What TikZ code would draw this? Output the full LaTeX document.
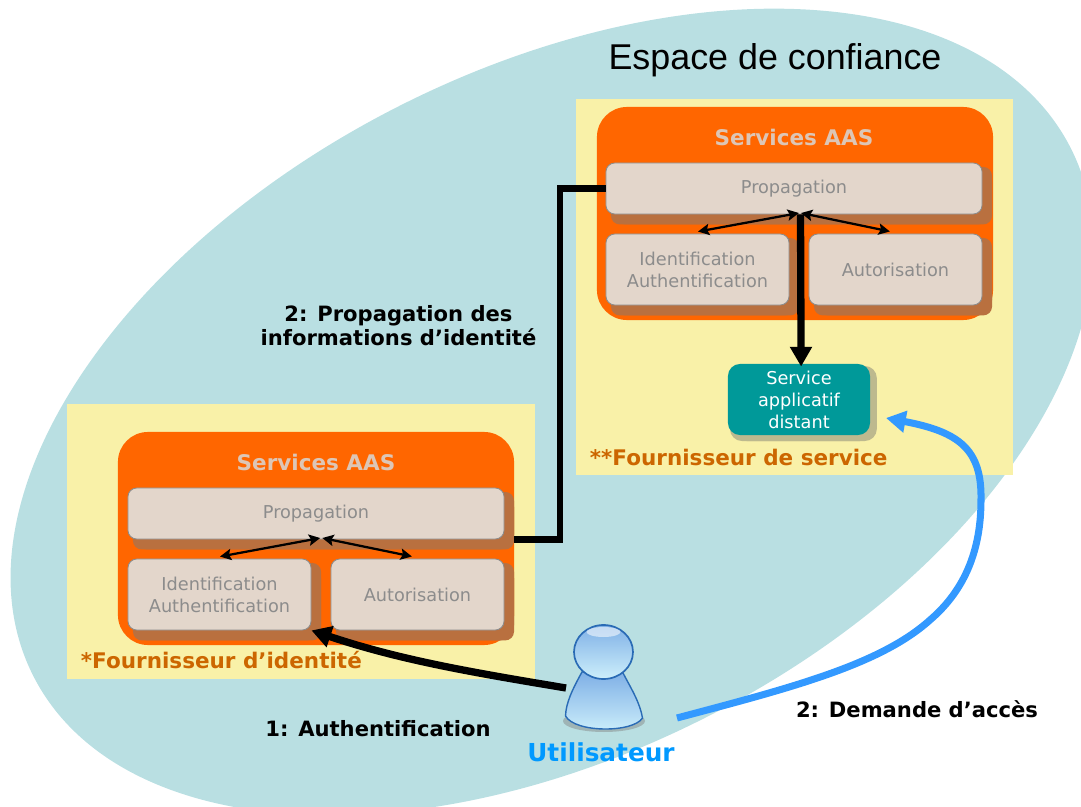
\documentclass[tikz,border=0pt]{standalone}
\usepackage{fontspec}
\setmainfont{DejaVu Sans}
\newfontfamily\titlefont{Liberation Sans}
\usetikzlibrary{arrows.meta,shadows}
\definecolor{trustblue}{HTML}{B9DFE2}
\definecolor{palebox}{HTML}{F9F1A8}
\definecolor{aasorange}{HTML}{FF6600}
\definecolor{aasshadow}{HTML}{B9703F}
\definecolor{modfill}{HTML}{E3D6CB}
\definecolor{modtext}{HTML}{8C8C8C}
\definecolor{aastitle}{HTML}{DDC6B6}
\definecolor{providertext}{HTML}{CC6600}
\definecolor{appteal}{HTML}{009999}
\definecolor{appshadow}{HTML}{BDB98E}
\definecolor{userblue}{HTML}{3399FF}
\definecolor{usertext}{HTML}{0099FF}
\definecolor{userrim}{HTML}{2A6BB5}
\definecolor{usertop}{HTML}{7FB0E6}
\definecolor{userlow}{HTML}{CDEFFB}
\tikzset{
  provider/.style={fill=palebox,inner sep=0pt},
  aasbox/.style={fill=aasorange,rounded corners=0.75cm,inner sep=0pt,minimum width=9.9cm,minimum height=5.325cm},
  modbox/.style={draw=modtext,line width=0.6pt,fill=modfill,text=modtext,align=center,rounded corners=0.22cm,inner sep=0pt,
    font=\fontsize{12.6}{15.6}\selectfont,
    general shadow={fill=aasshadow,shadow xshift=0.125cm,shadow yshift=-0.26cm},
    general shadow={fill=aasshadow,shadow xshift=0.25cm,shadow yshift=-0.26cm},
    general shadow={fill=aasshadow,shadow xshift=0.25cm,shadow yshift=-0.1cm}},
  aastitlelabel/.style={text=aastitle,font=\fontsize{15.3}{18}\selectfont\bfseries},
  providerlabel/.style={text=providertext,anchor=west,font=\fontsize{15.3}{18}\selectfont\bfseries},
  steplabel/.style={text=black,align=center,font=\fontsize{15}{17}\selectfont\bfseries},
  linkarrow/.style={{Stealth[length=8pt,width=8pt,inset=1.5pt]}-{Stealth[length=8pt,width=8pt,inset=1.5pt]},line width=1.6pt},
  heavyarrow/.style={-{Triangle[length=14pt,width=15pt]},line width=5.2pt}
}
\begin{document}
\begin{tikzpicture}[x=0.025cm,y=-0.025cm]
        \useasboundingbox (0,0) rectangle (1081,807);
        \clip (0,0) rectangle (1081,807);
        % Trust area
        \fill[trustblue,rotate around={27:(552,412)}] (552,412) ellipse (582 and 342);
        \node[font=\fontsize{25.5}{30}\selectfont\titlefont] (trust) at (775,60) {Espace de confiance};
        % Identity provider
        \node[provider,minimum width=11.7cm,minimum height=6.875cm] (provL) at (301,541.5) {};
        \node[aasbox] (srvL) at (316,538.5) {};
        \node[aastitlelabel] (titleL) at (316,462) {Services AAS};
        \node[modbox,minimum width=9.4cm,minimum height=1.275cm] (propL) at (316,513.5) {Propagation};
        \node[modbox,minimum width=4.575cm,minimum height=1.775cm] (idL) at (219.5,594.5) {Identification\\Authentification};
        \node[modbox,minimum width=4.325cm,minimum height=1.775cm] (autoL) at (417.5,594.5) {Autorisation};
        \node[providerlabel] (nameL) at (76,660) {*Fournisseur d’identité};
        % Service provider
        \node[provider,minimum width=10.925cm,minimum height=9.4cm] (provR) at (794.5,287) {};
        \node[aasbox] (srvR) at (795,213.5) {};
        \node[aastitlelabel] (titleR) at (794,137) {Services AAS};
        \node[modbox,minimum width=9.4cm,minimum height=1.275cm] (propR) at (794,188.5) {Propagation};
        \node[modbox,minimum width=4.575cm,minimum height=1.775cm] (idR) at (697.5,269.5) {Identification\\Authentification};
        \node[modbox,minimum width=4.325cm,minimum height=1.775cm] (autoR) at (895.5,269.5) {Autorisation};
        \node[providerlabel] (nameR) at (585,457) {**Fournisseur de service};
        % Remote application
        \node[fill=appteal,text=white,align=center,rounded corners=0.3cm,inner sep=0pt,minimum width=3.55cm,minimum height=1.775cm,
          font=\fontsize{12.6}{15.6}\selectfont,
          general shadow={fill=appshadow,shadow xshift=0.05cm,shadow yshift=-0.15cm},
          general shadow={fill=appshadow,shadow xshift=0.17cm,shadow yshift=-0.15cm},
          general shadow={fill=appshadow,shadow xshift=0.17cm,shadow yshift=-0.05cm}]
          (app) at (799,399.5) {Service\\applicatif\\distant};
        \coordinate (appin) at (886,418);
        % User figure
        \fill[gray,opacity=0.45] (604,721) ellipse (41 and 11);
        \shade[top color=usertop,bottom color=userlow,draw=userrim,line width=1pt]
          (582,672) .. controls (572,690) and (566,703) .. (565.5,716)
          .. controls (575,733) and (633,733) .. (642.5,718)
          .. controls (640,703) and (632,690) .. (623,673) -- cycle;
        \shade[top color=usertop,bottom color=userlow,draw=userrim,line width=1.2pt]
          (603.5,652) ellipse (29.5 and 27);
        \fill[white,opacity=0.55] (603.5,632) ellipse (17 and 5);
        \coordinate (userL) at (566,688);
        \coordinate (userR) at (677,718);
        \node[text=usertext,font=\fontsize{17.6}{20}\selectfont\bfseries] (user) at (601,752) {Utilisateur};
        % Links between modules
        \draw[heavyarrow] (propR.south -| app.north) ++(1.5,0) -- ([xshift=1.5pt,yshift=-2pt]app.north);
        \draw[linkarrow] (idL.north) ++(0.5,-2) -- ([xshift=3pt,yshift=1pt]propL.south);
        \draw[linkarrow] ([xshift=4.5pt,yshift=1pt]propL.south) -- ([xshift=-4pt,yshift=1.5pt]autoL.north);
        \draw[linkarrow] (idR.north) ++(0.5,-2) -- ([xshift=3.5pt,yshift=1pt]propR.south);
        \draw[linkarrow] ([xshift=5pt,yshift=1pt]propR.south) -- ([xshift=-4pt,yshift=1.5pt]autoR.north);
        % Identity propagation
        \coordinate (bend) at (560,188.5);
        \draw[line width=4.4pt] (srvL.east |- propL.south) -| (bend) -- (propR.west);
        \node[steplabel] (stepprop) at (398.5,326) {2: Propagation des\\informations d’identité};
        % Authentication
        \draw[heavyarrow] (userL) .. controls (470,672) and (400,660) .. (idL.south east);
        \node[steplabel] (stepauth) at (378,729) {1: Authentification};
        % Access request
        \draw[-{Triangle[length=14pt,width=15pt]},line width=5pt,userblue] (userR) .. controls (790,688) and (880,665) .. (930,620)
          .. controls (965,590) and (981,550) .. (981,500)
          .. controls (982,450) and (960,432) .. (appin);
        \node[steplabel] (stepreq) at (917,709) {2: Demande d’accès};
    \end{tikzpicture}
\end{document}
